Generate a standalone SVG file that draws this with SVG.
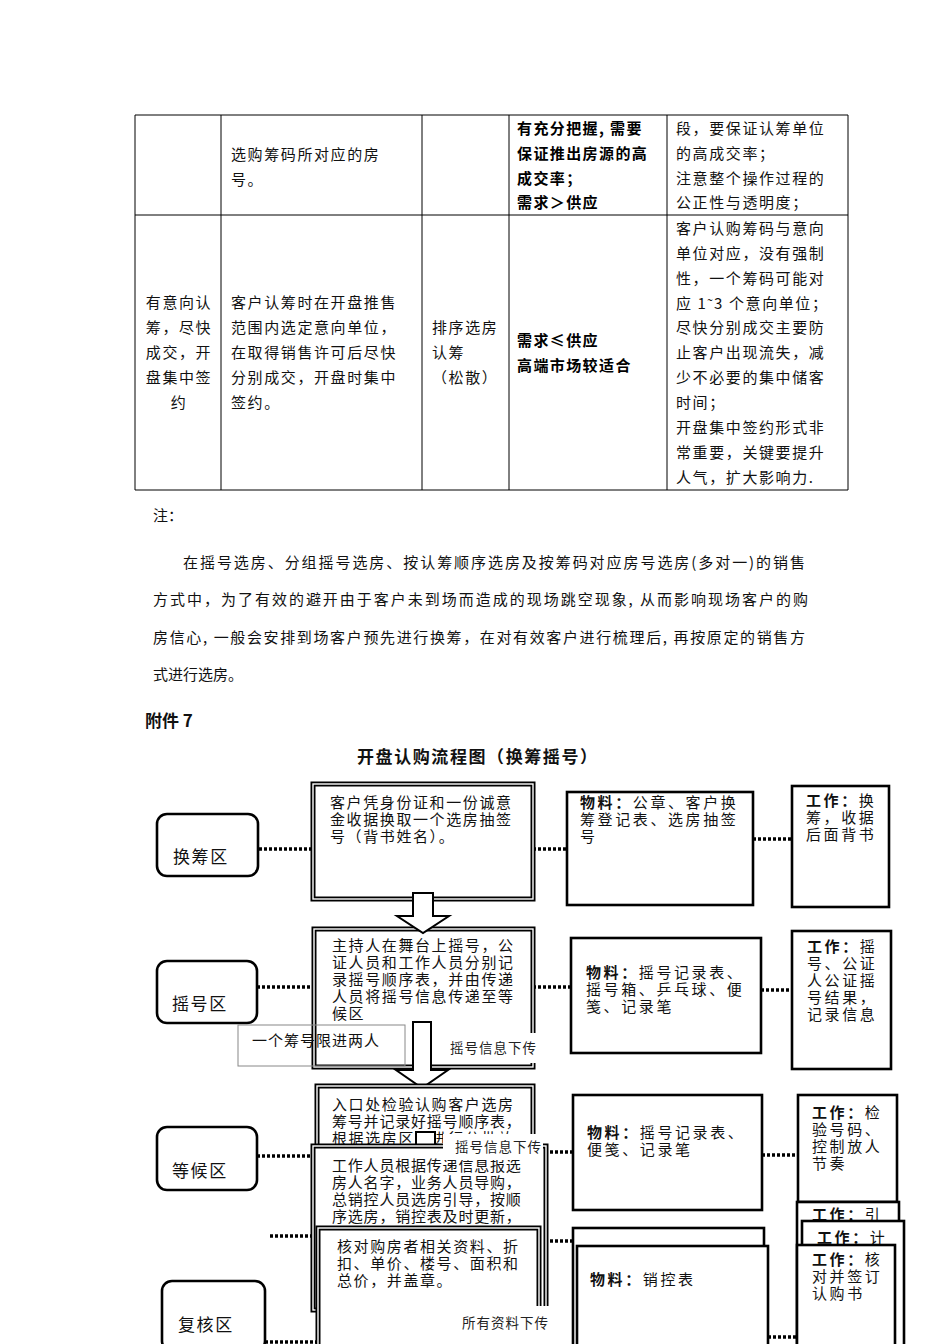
<svg xmlns="http://www.w3.org/2000/svg" width="950" height="1344" viewBox="0 0 950 1344">
<style>
.t{font-family:"Noto Sans CJK SC","Liberation Serif",serif;font-size:15px;fill:#111;letter-spacing:1.6px}
.tb{font-family:"Noto Sans CJK SC","Liberation Sans",sans-serif;font-size:15px;font-weight:bold;fill:#000;letter-spacing:1.4px}
.p{font-family:"Noto Sans CJK SC","Liberation Serif",serif;font-size:15px;fill:#111}
.grid{stroke:#000;stroke-width:1;fill:none}
.f{font-family:"Noto Sans CJK SC","Liberation Serif",serif;font-size:15px;fill:#111;letter-spacing:1.6px}
.fw{letter-spacing:2.6px}
.b{font-weight:bold}
.lbl{font-family:"Noto Sans CJK SC","Liberation Serif",serif;font-size:13.5px;fill:#222;letter-spacing:1px}
.zone{fill:#fff;stroke:#000;stroke-width:2.6}
.box{fill:#fff;stroke:#000;stroke-width:2.6}
.dbl{fill:#fff;stroke:#000;stroke-width:5}
.dbli{fill:none;stroke:#fff;stroke-width:1.4}
.dot{stroke:#000;stroke-width:3.5;stroke-dasharray:3 2;fill:none}
.arr{fill:#fff;stroke:#000;stroke-width:2}
.wl{fill:#fff;stroke:none}
</style>

<g id="table">
<path class="grid" d="M135 115H848M135 215H848M135 490H848M135 115V490M221 115V490M422 115V490M509 115V490M667 115V490M848 115V490"/>
<text class="t" x="231" y="160">选购筹码所对应的房</text>
<text class="t" x="231" y="185">号。</text>
<text class="tb" x="517" y="134">有充分把握, 需要</text>
<text class="tb" x="517" y="159">保证推出房源的高</text>
<text class="tb" x="517" y="184">成交率；</text>
<text class="tb" x="517" y="208">需求＞供应</text>
<text class="t" x="676" y="134">段，要保证认筹单位</text>
<text class="t" x="676" y="159">的高成交率；</text>
<text class="t" x="676" y="184">注意整个操作过程的</text>
<text class="t" x="676" y="208">公正性与透明度；</text>
<g text-anchor="middle">
<text class="t" x="179" y="308">有意向认</text>
<text class="t" x="179" y="333">筹，尽快</text>
<text class="t" x="179" y="358">成交，开</text>
<text class="t" x="179" y="383">盘集中签</text>
<text class="t" x="179" y="408">约</text>
</g>
<text class="t" x="231" y="308">客户认筹时在开盘推售</text>
<text class="t" x="231" y="333">范围内选定意向单位，</text>
<text class="t" x="231" y="358">在取得销售许可后尽快</text>
<text class="t" x="231" y="383">分别成交，开盘时集中</text>
<text class="t" x="231" y="408">签约。</text>
<text class="t" x="432" y="333">排序选房</text>
<text class="t" x="432" y="358">认筹</text>
<text class="t" x="432" y="383">（松散）</text>
<text class="tb" x="517" y="346">需求≤供应</text>
<text class="tb" x="517" y="371">高端市场较适合</text>
<text class="t" x="676" y="234">客户认购筹码与意向</text>
<text class="t" x="676" y="259">单位对应，没有强制</text>
<text class="t" x="676" y="284">性，一个筹码可能对</text>
<text class="t" x="676" y="309">应 1˜3 个意向单位；</text>
<text class="t" x="676" y="333">尽快分别成交主要防</text>
<text class="t" x="676" y="358">止客户出现流失，减</text>
<text class="t" x="676" y="383">少不必要的集中储客</text>
<text class="t" x="676" y="408">时间；</text>
<text class="t" x="676" y="433">开盘集中签约形式非</text>
<text class="t" x="676" y="458">常重要，关键要提升</text>
<text class="t" x="676" y="483">人气，扩大影响力.</text>
</g>

<g id="notes">
<text class="p" x="153" y="521">注：</text>
<text class="p" x="183" y="568" textLength="622" lengthAdjust="spacing">在摇号选房、分组摇号选房、按认筹顺序选房及按筹码对应房号选房(多对一)的销售</text>
<text class="p" x="153" y="605" textLength="655" lengthAdjust="spacing">方式中，为了有效的避开由于客户未到场而造成的现场跳空现象, 从而影响现场客户的购</text>
<text class="p" x="153" y="643" textLength="652" lengthAdjust="spacing">房信心, 一般会安排到场客户预先进行换筹，在对有效客户进行梳理后, 再按原定的销售方</text>
<text class="p" x="153" y="680">式进行选房。</text>
<text class="p b" x="145" y="727" style="font-size:17px">附件 7</text>
<text class="p b" x="357" y="763" style="font-size:17px" textLength="240" lengthAdjust="spacing">开盘认购流程图（换筹摇号）</text>
</g>

<g id="connectors">
<path class="dot" d="M259 849H313M533 849H567M753 839H792"/>
<path class="dot" d="M257 987H314M533 987H571M761 990H793"/>
<path class="dot" d="M257 1156H313M550 1152H573M762 1155H798"/>
<path class="dot" d="M270 1236H313M545 1241H573M768 1337H797M265 1342H318"/>
</g>

<g id="zone-huanchou">
<rect class="zone" x="157" y="814" width="101" height="62" rx="10"/>
<text class="f" x="173" y="863" style="font-size:17px">换筹区</text>
</g>
<g id="zone-yaohao">
<rect class="zone" x="157" y="961" width="100" height="62" rx="10"/>
<text class="f" x="172" y="1010" style="font-size:17px">摇号区</text>
</g>
<g id="zone-denghou">
<rect class="zone" x="157" y="1127" width="100" height="63" rx="10"/>
<text class="f" x="172" y="1177" style="font-size:17px">等候区</text>
</g>
<g id="zone-fuhe">
<rect class="zone" x="162" y="1281" width="103" height="70" rx="10"/>
<text class="f" x="178" y="1331" style="font-size:17px">复核区</text>
</g>

<g id="step1">
<rect class="dbl" x="313" y="784" width="220" height="115"/>
<rect class="dbli" x="313" y="784" width="220" height="115"/>
<text class="f" x="330" y="808">客户凭身份证和一份诚意</text>
<text class="f" x="330" y="825">金收据换取一个选房抽签</text>
<text class="f" x="330" y="842">号（背书姓名）。</text>
</g>
<g id="mat1">
<rect class="box" x="567" y="792" width="186" height="113"/>
<text class="f fw" x="580" y="808"><tspan class="b">物料：</tspan>公章、客户换</text>
<text class="f fw" x="580" y="825">筹登记表、选房抽签</text>
<text class="f fw" x="580" y="842">号</text>
</g>
<g id="work1">
<rect class="box" x="792" y="786" width="97" height="121"/>
<text class="f fw" x="806" y="806"><tspan class="b">工作：</tspan>换</text>
<text class="f fw" x="806" y="823">筹，收据</text>
<text class="f fw" x="806" y="840">后面背书</text>
</g>

<g id="step2">
<rect class="dbl" x="314" y="929" width="219" height="138"/>
<rect class="dbli" x="314" y="929" width="219" height="138"/>
<text class="f" x="332" y="951">主持人在舞台上摇号，公</text>
<text class="f" x="332" y="968">证人员和工作人员分别记</text>
<text class="f" x="332" y="985">录摇号顺序表，并由传递</text>
<text class="f" x="332" y="1002">人员将摇号信息传递至等</text>
<text class="f" x="332" y="1019">候区</text>
</g>
<g id="arrow1">
<polygon class="arr" points="413,893 433,893 433,916 449,916 423,933 397,916 413,916"/>
</g>
<g id="arrow2">
<polygon class="arr" points="413,1022 431,1022 431,1070 448,1070 422,1088 396,1070 413,1070"/>
</g>
<g id="label-limit">
<rect x="238" y="1025" width="167" height="41" fill="none" stroke="#888" stroke-width="1"/>
<text class="f" x="252" y="1046" style="letter-spacing:1px">一个筹号限进两人</text>
</g>
<g id="label-down1">
<rect class="wl" x="443" y="1033" width="95" height="30"/>
<text class="lbl" x="450" y="1053">摇号信息下传</text>
</g>
<g id="mat2">
<rect class="box" x="571" y="938" width="190" height="115"/>
<text class="f fw" x="586" y="978"><tspan class="b">物料：</tspan>摇号记录表、</text>
<text class="f fw" x="586" y="995">摇号箱、乒乓球、便</text>
<text class="f fw" x="586" y="1012">笺、记录笔</text>
</g>
<g id="work2">
<rect class="box" x="792" y="931" width="99" height="138"/>
<text class="f fw" x="807" y="952"><tspan class="b">工作：</tspan>摇</text>
<text class="f fw" x="807" y="969">号、公证</text>
<text class="f fw" x="807" y="986">人公证摇</text>
<text class="f fw" x="807" y="1003">号结果，</text>
<text class="f fw" x="807" y="1020">记录信息</text>
</g>

<g id="step3">
<rect class="dbl" x="317" y="1086" width="216" height="90"/>
<rect class="dbli" x="317" y="1086" width="216" height="90"/>
<text class="f" x="332" y="1110">入口处检验认购客户选房</text>
<text class="f" x="332" y="1127" style="letter-spacing:0.8px">筹号并记录好摇号顺序表，</text>
<text class="f" x="332" y="1144">根据选房区域进行分批放</text>
<rect class="arr" x="416" y="1132" width="19" height="14"/>
</g>
<g id="mat3">
<rect class="box" x="573" y="1095" width="189" height="115"/>
<text class="f fw" x="587" y="1138"><tspan class="b">物料：</tspan>摇号记录表、</text>
<text class="f fw" x="587" y="1155">便笺、记录笔</text>
</g>
<g id="work3">
<rect class="box" x="798" y="1095" width="99" height="107"/>
<text class="f fw" x="812" y="1118"><tspan class="b">工作：</tspan>检</text>
<text class="f fw" x="812" y="1135">验号码、</text>
<text class="f fw" x="812" y="1152">控制放人</text>
<text class="f fw" x="812" y="1169">节奏</text>
</g>

<g id="step4">
<rect class="dbl" x="313" y="1146" width="233" height="164"/>
<rect class="dbli" x="313" y="1146" width="233" height="164"/>
<text class="f" x="332" y="1171" style="letter-spacing:0.8px">工作人员根据传递信息报选</text>
<text class="f" x="332" y="1188" style="letter-spacing:0.8px">房人名字，业务人员导购，</text>
<text class="f" x="332" y="1205" style="letter-spacing:0.8px">总销控人员选房引导，按顺</text>
<text class="f" x="332" y="1222" style="letter-spacing:0.8px">序选房，销控表及时更新，</text>
<text class="f" x="332" y="1239" style="letter-spacing:0.8px">在销控台登记选房结果定位</text>
</g>
<g id="label-down2">
<rect class="wl" x="443" y="1134" width="100" height="26"/>
<text class="lbl" x="455" y="1152">摇号信息下传</text>
</g>

<g id="step5">
<rect class="dbl" x="318" y="1228" width="221" height="130"/>
<rect class="dbli" x="318" y="1228" width="221" height="130"/>
<text class="f" x="337" y="1252">核对购房者相关资料、折</text>
<text class="f" x="337" y="1269">扣、单价、楼号、面积和</text>
<text class="f" x="337" y="1286">总价，并盖章。</text>
</g>
<g id="label-down3">
<rect class="wl" x="443" y="1306" width="120" height="38"/>
<text class="lbl" x="462" y="1328">所有资料下传</text>
</g>

<g id="mat4">
<rect class="box" x="573" y="1228" width="191" height="130"/>
<rect class="box" x="577" y="1246" width="191" height="112"/>
<text class="f fw" x="590" y="1285"><tspan class="b">物料：</tspan>销控表</text>
</g>
<g id="work4">
<rect class="box" x="797" y="1202" width="102" height="156"/>
<text class="f fw" x="812" y="1220"><tspan class="b">工作：</tspan>引</text>
<rect class="box" x="802" y="1221" width="102" height="137"/>
<text class="f fw" x="817" y="1243"><tspan class="b">工作：</tspan>计</text>
<rect class="box" x="797" y="1245" width="98" height="113"/>
<text class="f fw" x="812" y="1265"><tspan class="b">工作：</tspan>核</text>
<text class="f fw" x="812" y="1282">对并签订</text>
<text class="f fw" x="812" y="1299">认购书</text>
</g>
</svg>
